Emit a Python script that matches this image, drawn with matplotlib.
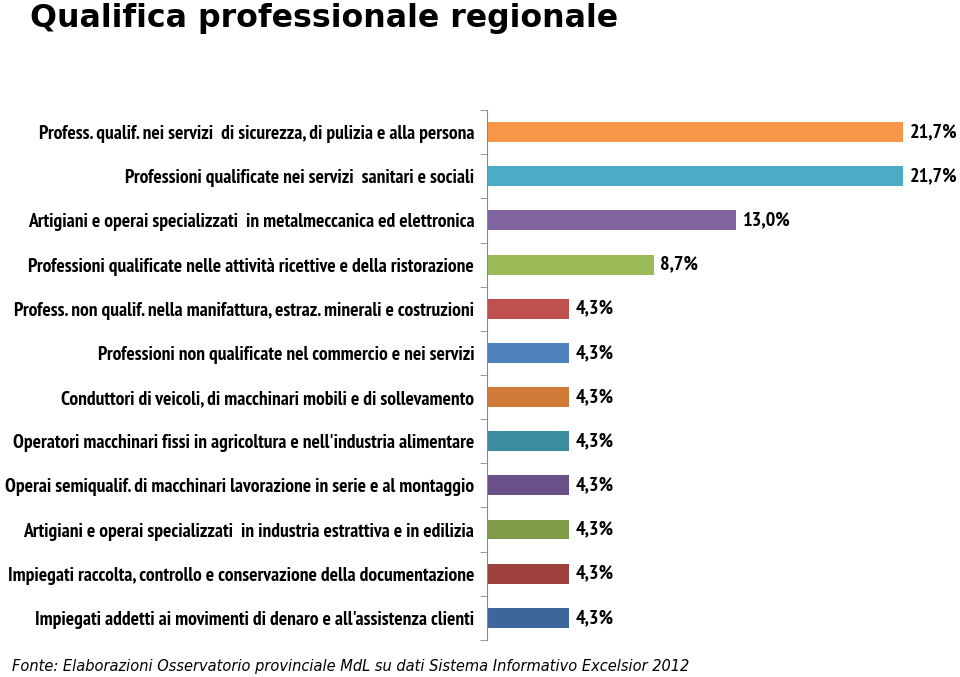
import numpy as np
import matplotlib.pyplot as plt
from matplotlib.ticker import FixedLocator

categories = [
    "Profess. qualif. nei servizi  di sicurezza, di pulizia e alla persona",
    "Professioni qualificate nei servizi  sanitari e sociali",
    "Artigiani e operai specializzati  in metalmeccanica ed elettronica",
    "Professioni qualificate nelle attività ricettive e della ristorazione",
    "Profess. non qualif. nella manifattura, estraz. minerali e costruzioni",
    "Professioni non qualificate nel commercio e nei servizi",
    "Conduttori di veicoli, di macchinari mobili e di sollevamento",
    "Operatori macchinari fissi in agricoltura e nell'industria alimentare",
    "Operai semiqualif. di macchinari lavorazione in serie e al montaggio",
    "Artigiani e operai specializzati  in industria estrattiva e in edilizia",
    "Impiegati raccolta, controllo e conservazione della documentazione",
    "Impiegati addetti ai movimenti di denaro e all'assistenza clienti",
]
values = [21.7, 21.7, 13.0, 8.7, 4.3, 4.3, 4.3, 4.3, 4.3, 4.3, 4.3, 4.3]
value_labels = ["21,7%", "21,7%", "13,0%", "8,7%", "4,3%", "4,3%",
                "4,3%", "4,3%", "4,3%", "4,3%", "4,3%", "4,3%"]
colors = ["#F79646", "#4BACC6", "#8064A2", "#9BBB59", "#C0504D", "#4F81BD",
          "#D07C38", "#3A8C9E", "#6A5089", "#7E9B48", "#9E413E", "#3E669B"]

narrow = ["PT Sans Narrow", "DejaVu Sans"]

fig = plt.figure(figsize=(9.6, 6.77), dpi=100)
ax = fig.add_axes([0.507, 0.0547, 0.46, 0.7828])

y = np.arange(len(categories))
ax.barh(y, values, height=0.45, color=colors)
ax.set_ylim(len(categories) - 0.5, -0.5)
ax.set_xlim(0, 23)

for yi, v, lab in zip(y, values, value_labels):
    ax.text(v + 0.35, yi, lab, va="center", ha="left", fontsize=14.5,
            fontweight="bold", family=narrow)

# category labels, ticks sit between bars
ax.set_yticks(y)
ax.set_yticklabels(categories, fontsize=14, fontweight="bold", family=narrow)
ax.tick_params(axis="y", which="major", length=0, pad=9)
ax.yaxis.set_minor_locator(FixedLocator(np.arange(-0.5, len(categories), 1.0)))
ax.tick_params(axis="y", which="minor", length=5, color="#888888")

ax.set_xticks([])
for s in ["top", "right", "bottom"]:
    ax.spines[s].set_visible(False)
ax.spines["left"].set_color("#888888")

fig.text(0.031, 0.973, "Qualifica professionale regionale", fontsize=22.8,
         fontweight="bold", va="center", ha="left")
fig.text(0.012, 0.016, "Fonte: Elaborazioni Osservatorio provinciale MdL su dati Sistema Informativo Excelsior 2012",
         fontsize=10.5, style="italic", va="center", ha="left")

fig.savefig("out.png", dpi=100)
